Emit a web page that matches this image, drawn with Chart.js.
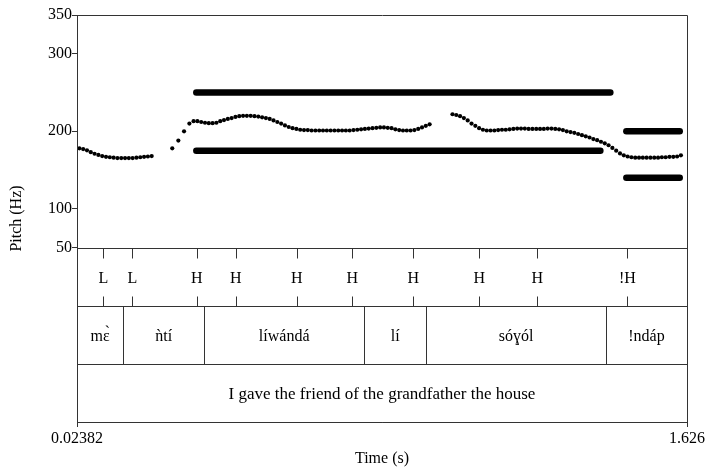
<!DOCTYPE html>
<html><head><meta charset="utf-8">
<script src="https://cdn.jsdelivr.net/npm/chart.js@4/dist/chart.umd.min.js"></script>
<style>html,body{margin:0;padding:0;background:#fff}#wrap{width:709px;height:468px}</style>
</head><body><div id="wrap"><canvas id="c" width="709" height="468"></canvas></div>
<script>
// ---- data ----
const timeRange = [0.02382, 1.626];
const timeTickLabels = ['0.02382', '1.626'];
const pitchTicks = [50, 100, 200, 300, 350];

const seg1Times = [0.03,0.04,0.05,0.06,0.07,0.08,0.09,0.10,0.11,0.12,0.13,0.14,0.15,0.16,0.17,0.18,0.19,0.20,0.21,0.22];
const seg1Hz    = [178,177,175.5,173,171,169.5,168,167,166.5,166,165.5,165.5,165.5,165.5,165.5,166,166.5,167,167.5,168];

const seg2Times = [0.274,0.290,0.305,0.319,
  0.33,0.34,0.35,0.36,0.37,0.38,0.39,0.40,0.41,0.42,0.43,0.44,0.45,0.46,0.47,0.48,0.49,0.50,0.51,0.52,0.53,0.54,0.55,0.56,0.57,0.58,0.59,0.60,0.61,0.62,0.63,0.64,0.65,0.66,0.67,0.68,0.69,0.70,0.71,0.72,0.73,0.74,0.75,0.76,0.77,0.78,0.79,0.80,0.81,0.82,0.83,0.84,0.85,0.86,0.87,0.88,0.89,0.90,0.91,0.92,0.93,0.94,0.95];
const seg2Hz = [178,188,200,210,
  213,213,212,211,210.5,210.5,211,213,214.5,216,217,218.5,219.5,220,220,220,219.5,219,218,217,216,214,212,210,207.5,205.5,204,203,202,201.5,201.5,201,201,201,201,201,201,201,201,201,201,201,201.5,202,202.5,203,203.5,204,204.5,205,205,204.5,204,202.5,201.5,201,201,201,201.5,203,205,207,209];

const seg3Times = [1.01,1.02,1.03,1.04,1.05,1.06,1.07,1.08,1.09,1.10,1.11,1.12,1.13,1.14,1.15,1.16,1.17,1.18,1.19,1.20,1.21,1.22,1.23,1.24,1.25,1.26,1.27,1.28,1.29,1.30,1.31,1.32,1.33,1.34,1.35,1.36,1.37,1.38,1.39,1.40,1.41,1.42,1.43,1.44,1.45,1.46,1.47,1.48,1.49,1.50,1.51,1.52,1.53,1.54,1.55,1.56,1.57,1.58,1.59,1.60,1.61];
const seg3Hz = [222,221,219.5,217,214,210,207,204,202,201,201,201,201.5,202,202,202.5,203,203.5,203.5,203.5,203,203,203,203,203,203.5,203.5,203,202.5,201.5,200,199,198,196.5,195,193.5,192,190,188.5,186.5,184.5,182,178.5,175,171.5,169,167.5,166.5,166,166,166,166,166,166,166,166.5,166.5,167,167,167.5,169];

// tonal target lines: start time, end time, Hz
const targetStart = [0.3372, 0.3372, 1.4667, 1.4667];
const targetEnd   = [1.4246, 1.3984, 1.6069, 1.6069];
const targetHz    = [250, 175, 200, 140];

const toneTimes  = [0.0929,0.1691,0.3382,0.4407,0.6009,0.7469,0.9072,1.0805,1.2329,1.4693];
const toneLabels = ['L','L','H','H','H','H','H','H','H','!H'];

const wordBounds = [0.02382,0.1454,0.3574,0.7785,0.9405,1.4133,1.626];
const wordLabels = ['mɛ̀','ǹtí','líwándá','lí','sóɣól','!ndáp'];

const sentenceLabel = 'I gave the friend of the grandfather the house';

// ---- chart ----
const FONT = '"Liberation Serif", "DejaVu Serif", serif';
const FS = 16;
const INK = '#000';
const LINE = '#333';

function pts(ts, vs) { return ts.map((t, i) => ({x: t, y: vs[i]})); }

const datasets = [];
[[seg1Times, seg1Hz], [seg2Times, seg2Hz], [seg3Times, seg3Hz]].forEach(([t, v]) => {
  datasets.push({data: pts(t, v), showLine: false, pointRadius: 2.1, pointBackgroundColor: INK, pointBorderWidth: 0, borderColor: INK});
});
targetHz.forEach((hz, i) => {
  datasets.push({data: [{x: targetStart[i], y: hz}, {x: targetEnd[i], y: hz}], showLine: true, borderWidth: 6.5,
    borderColor: INK, borderCapStyle: 'round', pointRadius: 0});
});

// tier band edges in pitch-axis units
const tierEdges = [50, -25, -100, -175];

const tierPlugin = {
  id: 'tiers',
  afterDraw(chart) {
    const {ctx, chartArea: a, scales: {x, y}} = chart;
    ctx.save();
    ctx.strokeStyle = LINE;
    ctx.lineWidth = 1;
    const px = v => Math.round(x.getPixelForValue(v)) + 0.5;
    const py = v => Math.round(y.getPixelForValue(v)) + 0.5;
    ctx.beginPath();
    ctx.rect(Math.round(a.left) + 0.5, Math.round(a.top) + 0.5, Math.round(a.right - a.left), Math.round(a.bottom - a.top));
    ctx.stroke();
    ctx.beginPath();
    tierEdges.slice(0, 3).forEach(v => { ctx.moveTo(a.left, py(v)); ctx.lineTo(a.right, py(v)); });
    ctx.stroke();
    const t0 = py(tierEdges[0]), t1 = py(tierEdges[1]);
    ctx.fillStyle = INK;
    ctx.font = FS + 'px ' + FONT;
    ctx.textAlign = 'center';
    ctx.textBaseline = 'middle';
    ctx.beginPath();
    toneTimes.forEach(t => {
      const xx = px(t);
      ctx.moveTo(xx, t0); ctx.lineTo(xx, t0 + 10);
      ctx.moveTo(xx, t1 - 10); ctx.lineTo(xx, t1);
    });
    ctx.stroke();
    toneTimes.forEach((t, i) => ctx.fillText(toneLabels[i], x.getPixelForValue(t), (t0 + t1) / 2 + 1));
    const w0 = t1, w1 = py(tierEdges[2]);
    ctx.beginPath();
    wordBounds.slice(1, -1).forEach(b => { ctx.moveTo(px(b), w0); ctx.lineTo(px(b), w1); });
    ctx.stroke();
    wordLabels.forEach((lab, i) => {
      const cx = (x.getPixelForValue(wordBounds[i]) + x.getPixelForValue(wordBounds[i + 1])) / 2;
      ctx.fillText(lab, cx, (w0 + w1) / 2 + 1);
    });
    const s0 = w1, s1 = py(tierEdges[3]);
    ctx.font = (FS + 1) + 'px ' + FONT;
    ctx.fillText(sentenceLabel, (a.left + a.right) / 2, (s0 + s1) / 2 + 1);
    ctx.restore();
  }
};

new Chart(document.getElementById('c'), {
  type: 'scatter',
  data: {datasets},
  options: {
    responsive: false,
    devicePixelRatio: 1,
    animation: false,
    layout: {padding: {top: 15, right: 22, left: 0, bottom: 0}},
    plugins: {legend: {display: false}, tooltip: {enabled: false}},
    scales: {
      x: {
        type: 'linear', min: timeRange[0], max: timeRange[1],
        afterFit: s => { s.height = 46; },
        afterBuildTicks: s => { s.ticks = timeRange.map(v => ({value: v})); },
        grid: {drawOnChartArea: false, drawTicks: true, tickLength: 5, color: LINE},
        border: {display: true, color: LINE},
        ticks: {color: INK, font: {family: FONT, size: FS}, padding: 2, maxRotation: 0, autoSkip: false,
          callback: (v, i) => timeTickLabels[i]},
        title: {display: true, text: 'Time (s)', color: INK, font: {family: FONT, size: FS}, padding: {top: 0, bottom: 0}}
      },
      y: {
        type: 'linear', min: -175, max: 350,
        afterFit: s => { s.width = 77; },
        afterBuildTicks: s => { s.ticks = pitchTicks.map(v => ({value: v})); },
        grid: {drawOnChartArea: false, drawTicks: true, tickLength: 5, color: LINE},
        border: {display: true, color: LINE},
        ticks: {color: INK, font: {family: FONT, size: FS}, padding: 0, autoSkip: false,
          callback: v => String(v)},
        title: {display: true, text: 'Pitch (Hz)', color: INK, font: {family: FONT, size: FS}, padding: {top: 7, bottom: 0}}
      }
    }
  },
  plugins: [tierPlugin]
});
</script>
</body></html>
